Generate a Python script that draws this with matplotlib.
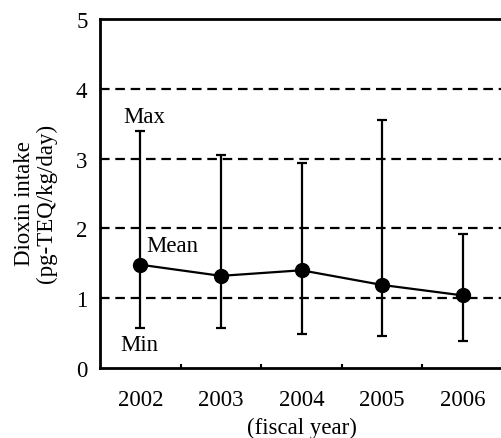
import matplotlib
matplotlib.use("Agg")
import matplotlib.pyplot as plt
import numpy as np

years = ["2002", "2003", "2004", "2005", "2006"]
mean_vals = [1.48, 1.32, 1.40, 1.19, 1.04]
max_vals = [3.39, 3.05, 2.94, 3.56, 1.92]
min_vals = [0.57, 0.57, 0.48, 0.46, 0.38]
y_ticks = [0, 1, 2, 3, 4, 5]

plt.rcParams['font.family'] = ['Liberation Serif', 'DejaVu Serif']

fig = plt.figure(figsize=(5.01, 4.39), dpi=100)
ax = fig.add_axes([100/501, 1-369/439, 403/501, 349/439])

x = np.arange(len(years))
mean = np.array(mean_vals)
lo = mean - np.array(min_vals)
hi = np.array(max_vals) - mean

lw = 1.6
for g in [1, 2, 3, 4]:
    ax.axhline(g, color='black', lw=lw, ls=(0, (4.3, 2.6)), zorder=1)

ax.errorbar(x, mean, yerr=[lo, hi], fmt='o-', color='black', lw=lw,
            elinewidth=lw, capsize=3.5, capthick=lw, markersize=10, zorder=3)

ax.set_xlim(-0.5, 4.5)
ax.set_ylim(0, 5)
ax.set_xticks(x)
ax.set_xticklabels(years, fontsize=16.5)
ax.set_xticks(np.arange(0.5, 4.5, 1), minor=True)
ax.tick_params(axis='x', which='major', length=0, pad=15)
ax.tick_params(axis='x', which='minor', direction='in', length=3, width=1.5)
ax.set_yticks(y_ticks)
ax.set_yticklabels([str(v) for v in y_ticks], fontsize=16.5)
ax.tick_params(axis='y', length=0, pad=9)

for s in ['left', 'bottom', 'top']:
    ax.spines[s].set_linewidth(2)
ax.spines['right'].set_visible(False)

ax.text(0.05, 3.61, "Max", fontsize=16.5, ha='center', va='center')
ax.text(0.4, 1.75, "Mean", fontsize=16.5, ha='center', va='center')
ax.text(-0.01, 0.33, "Min", fontsize=16.5, ha='center', va='center')

ax.set_xlabel("(fiscal year)", fontsize=16.5, labelpad=5)
fig.text(25/501, 1-204/439, "Dioxin intake", fontsize=16.5, rotation=90,
         ha='center', va='center')
fig.text(46/501, 1-203/439, "(pg-TEQ/kg/day)", fontsize=16.5, rotation=90,
         ha='center', va='center')

fig.savefig("out.png", dpi=100)
